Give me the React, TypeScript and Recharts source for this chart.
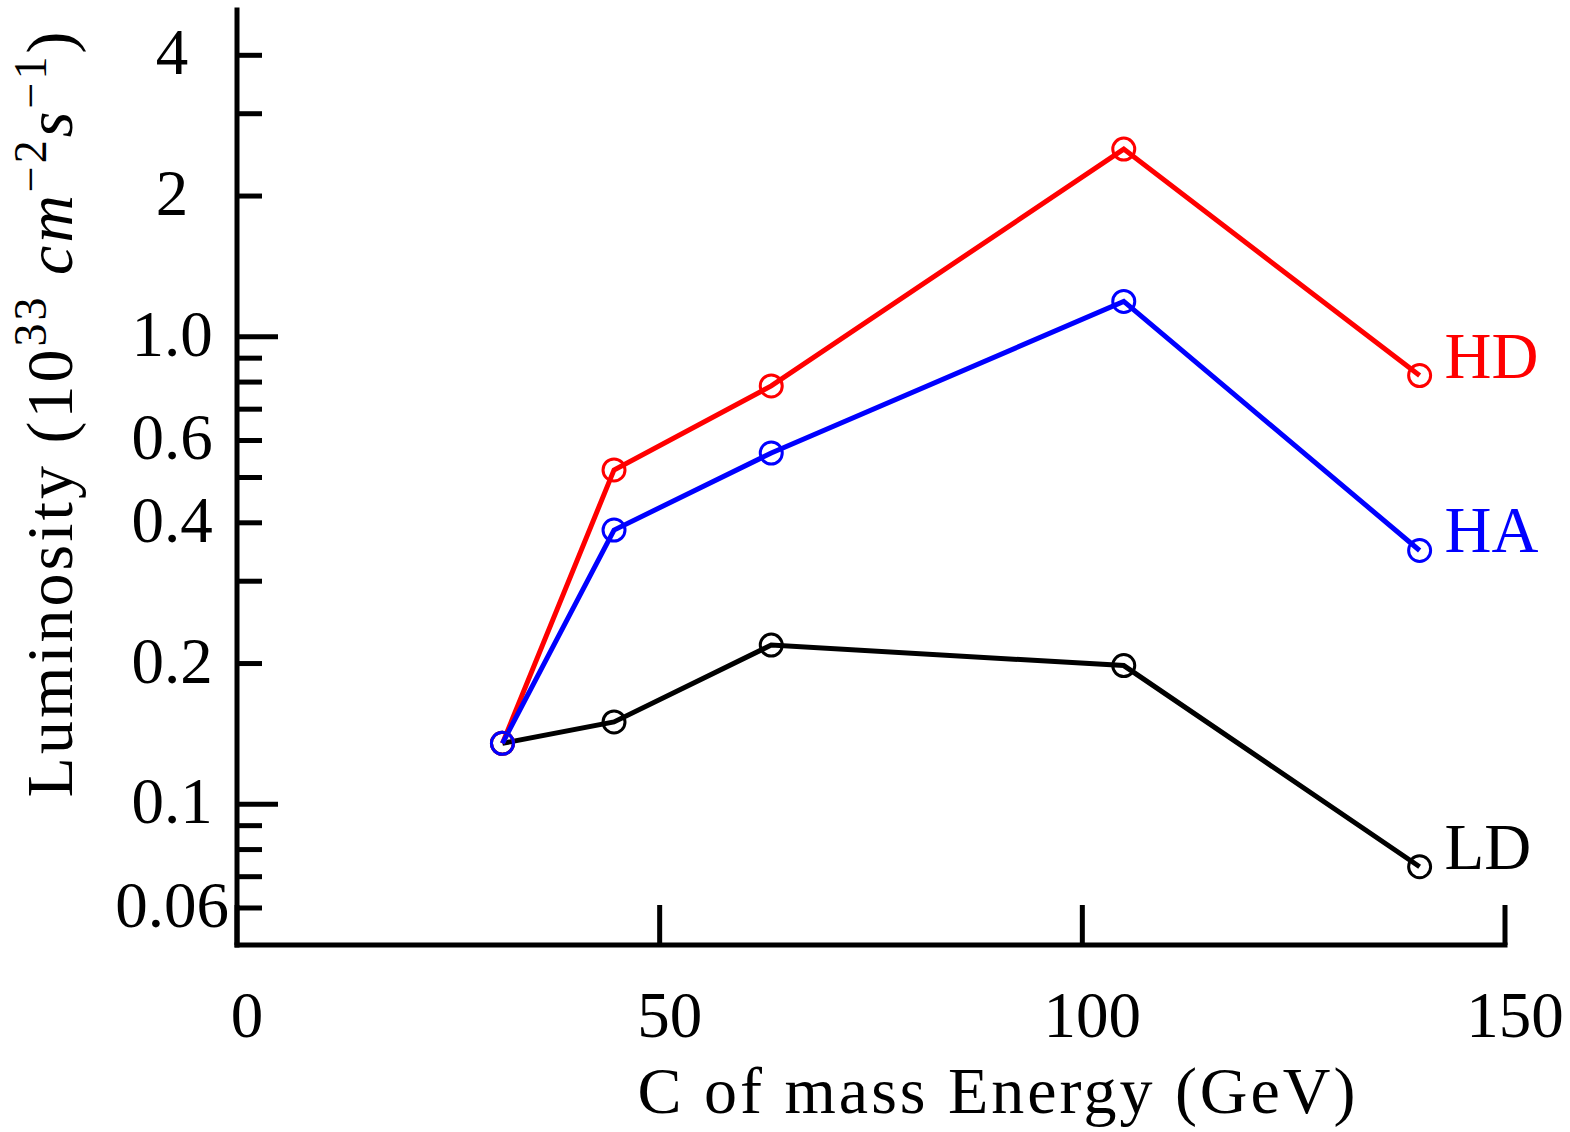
import { LineChart, Line, XAxis, YAxis } from 'recharts';

const FONT = "'Liberation Serif', 'Times New Roman', serif";

// centre of mass energies (GeV)
const energies = [31.4, 44.6, 63.2, 104.9, 139.9];
// luminosity in 1e33 cm^-2 s^-1
const hdLumi = [0.135, 0.519, 0.785, 2.52, 0.826];
const haLumi = [0.135, 0.386, 0.564, 1.19, 0.349];
const ldLumi = [0.135, 0.150, 0.219, 0.198, 0.0735];

const xTicks = [0, 50, 100, 150];
const yTicks = [0.06, 0.07, 0.08, 0.09, 0.1, 0.2, 0.3, 0.4, 0.5, 0.6, 0.7, 0.8, 0.9, 1, 2, 3, 4];
const yTickLabels = ['0.06', '', '', '', '0.1', '0.2', '', '0.4', '', '0.6', '', '', '', '1.0', '2', '', '4'];
const yMajorTicks = [0.1, 1];

const data = energies.map((e, i) => ({ x: e, hd: hdLumi[i], ha: haLumi[i], ld: ldLumi[i] }));

const XTick = (props: any) => {
  const { x, y, payload } = props;
  return (
    <g>
      <line x1={x} x2={x} y1={y} y2={y - 40} stroke="#000" strokeWidth={5} />
      <text x={x + 10} y={y + 92} textAnchor="middle" fontSize={65} fontFamily={FONT} fill="#000">
        {payload.value}
      </text>
    </g>
  );
};

const YTick = (props: any) => {
  const { x, y, payload } = props;
  const idx = yTicks.indexOf(payload.value);
  const label = idx >= 0 ? yTickLabels[idx] : '';
  const len = yMajorTicks.includes(payload.value) ? 41 : 25;
  return (
    <g>
      <line x1={x} x2={x + len} y1={y} y2={y} stroke="#000" strokeWidth={5} />
      {label && (
        <text x={x - 65} y={y + 19} textAnchor="middle" fontSize={65} fontFamily={FONT} fill="#000">
          {label}
        </text>
      )}
    </g>
  );
};

const makeDot = (color: string, name: string) => (props: any) => {
  const { cx, cy, index } = props;
  return (
    <g key={`${name}-${index}`}>
      <circle cx={cx} cy={cy} r={11} fill="none" stroke={color} strokeWidth={3} />
      {index === energies.length - 1 && (
        <text x={cx + 25} y={cy + 2} fontSize={65} fontFamily={FONT} fill={color}>
          {name}
        </text>
      )}
    </g>
  );
};

const XTitle = () => (
  <text x={998} y={1113} textAnchor="middle" fontSize={66} fontFamily={FONT} letterSpacing={3} fill="#000">
    C of mass Energy (GeV)
  </text>
);

const YTitle = () => (
  <text
    x={72}
    y={413}
    transform="rotate(-90 72 413)"
    textAnchor="middle"
    fontSize={66}
    fontFamily={FONT}
    letterSpacing={3}
    fill="#000"
  >
    <tspan>Luminosity (10</tspan>
    <tspan dy={-26} fontSize={46}>33</tspan>
    <tspan dy={26} fontStyle="italic">{'  cm'}</tspan>
    <tspan dy={-26} fontSize={46}>−2</tspan>
    <tspan dy={26} fontStyle="italic">s</tspan>
    <tspan dy={-26} fontSize={46}>−1</tspan>
    <tspan dy={26}>)</tspan>
  </text>
);

export default function App() {
  return (
    <div style={{ position: 'absolute', left: 0, top: 0, width: 1570, height: 1132, background: '#fff' }}>
      <LineChart width={1570} height={1132} data={data} margin={{ top: 10, right: 65, left: 37, bottom: 87 }}>
        <XAxis
          dataKey="x"
          type="number"
          domain={[0, 150]}
          ticks={xTicks}
          interval={0}
          height={100}
          tickSize={0}
          tickMargin={0}
          tickLine={false}
          axisLine={{ stroke: '#000', strokeWidth: 5, strokeLinecap: 'square' }}
          tick={<XTick />}
          label={{ value: 'x', content: () => <XTitle /> }}
        />
        <YAxis
          type="number"
          scale="log"
          domain={[0.05, 5]}
          allowDataOverflow
          ticks={yTicks}
          interval={0}
          width={200}
          tickSize={0}
          tickMargin={0}
          tickLine={false}
          axisLine={{ stroke: '#000', strokeWidth: 5, strokeLinecap: 'square' }}
          tick={<YTick />}
          label={{ value: 'y', content: () => <YTitle /> }}
        />
        <Line
          type="linear"
          dataKey="ld"
          stroke="#000"
          strokeWidth={5}
          dot={makeDot('#000', 'LD')}
          activeDot={false}
          isAnimationActive={false}
        />
        <Line
          type="linear"
          dataKey="hd"
          stroke="#ff0000"
          strokeWidth={5}
          dot={makeDot('#ff0000', 'HD')}
          activeDot={false}
          isAnimationActive={false}
        />
        <Line
          type="linear"
          dataKey="ha"
          stroke="#0000ff"
          strokeWidth={5}
          dot={makeDot('#0000ff', 'HA')}
          activeDot={false}
          isAnimationActive={false}
        />
      </LineChart>
    </div>
  );
}
